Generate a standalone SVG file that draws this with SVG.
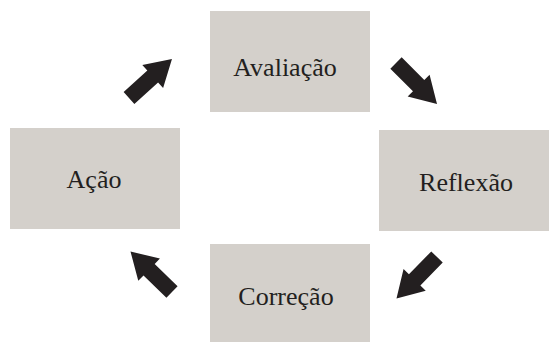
<svg xmlns="http://www.w3.org/2000/svg" width="551" height="342" viewBox="0 0 551 342">
  <style>
    .box { fill: #d4d0cb; }
    .lbl { font-family: "Liberation Serif", "DejaVu Serif", serif; font-size: 26px; fill: #231f20; text-anchor: middle; }
    .arr { fill: #231f20; }
  </style>
  <defs>
    <path id="blockArrow" d="M0,-8 L32,-8 L32,-15.5 L58,0 L32,15.5 L32,8 L0,8 Z"/>
  </defs>
  <rect width="551" height="342" fill="#ffffff"/>
  <g id="node-avaliacao">
    <rect class="box" x="210" y="11" width="160" height="101"/>
    <text class="lbl" x="285" y="76">Avaliação</text>
  </g>
  <g id="node-reflexao">
    <rect class="box" x="379" y="130" width="170" height="101"/>
    <text class="lbl" x="466" y="191">Reflexão</text>
  </g>
  <g id="node-correcao">
    <rect class="box" x="210" y="244" width="160" height="98"/>
    <text class="lbl" x="286" y="305">Correção</text>
  </g>
  <g id="node-acao">
    <rect class="box" x="10" y="128" width="170" height="101"/>
    <text class="lbl" x="94" y="188">Ação</text>
  </g>
  <g id="connectors" class="arr">
    <use href="#blockArrow" transform="translate(129,98) rotate(-42.2)"/>
    <use href="#blockArrow" transform="translate(396,63) rotate(45)"/>
    <use href="#blockArrow" transform="translate(437,257) rotate(134.3)"/>
    <use href="#blockArrow" transform="translate(172,292) rotate(-135.7)"/>
  </g>
</svg>
